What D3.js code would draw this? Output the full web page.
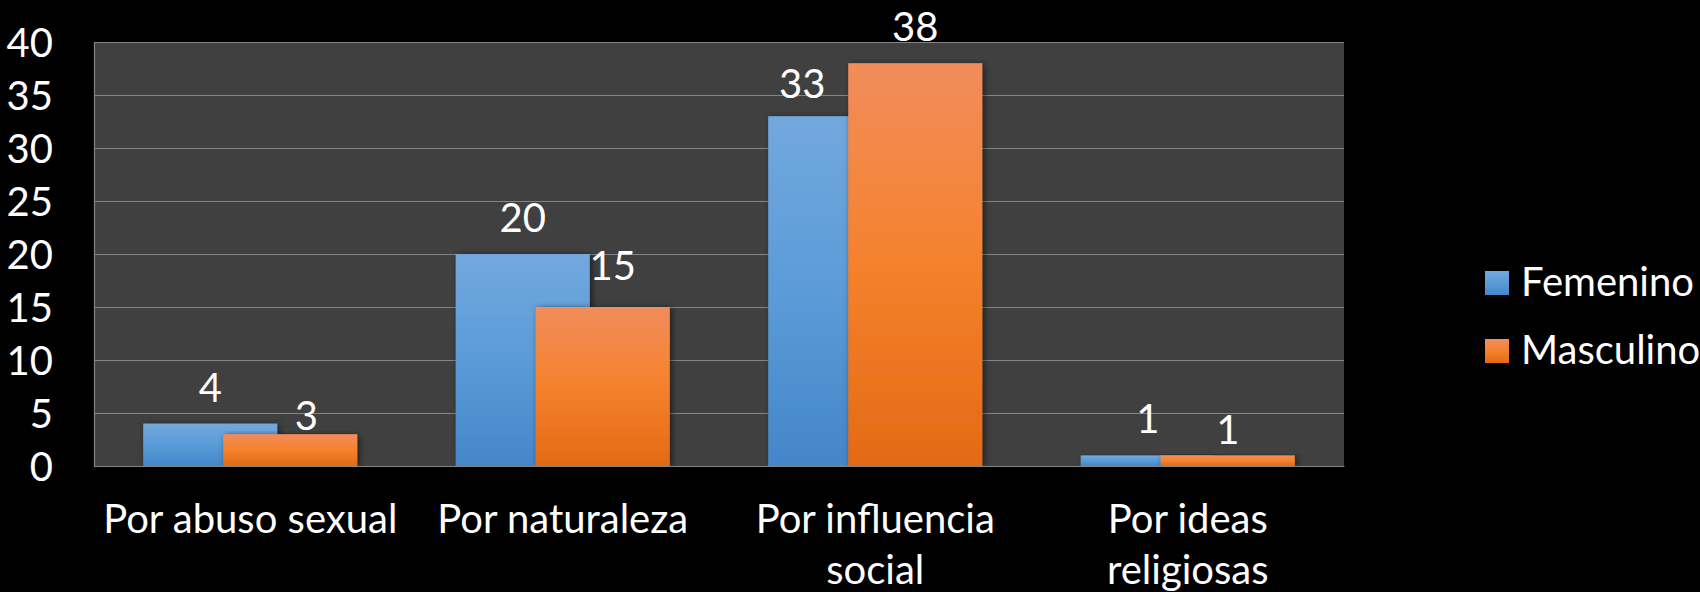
<!DOCTYPE html>
<html>
<head>
<meta charset="utf-8">
<script src="https://cdn.jsdelivr.net/npm/d3@7"></script>
<style>
  html, body { margin: 0; padding: 0; background: #000; }
  svg { display: block; font-family: Lato, "Open Sans", sans-serif; }
</style>
</head>
<body>
<svg width="1700" height="592"></svg>
<script>
var categories = ["Por abuso sexual", "Por naturaleza", "Por influencia social", "Por ideas religiosas"];
var seriesNames = ["Femenino", "Masculino"];
var femenino = [4, 20, 33, 1];
var masculino = [3, 15, 38, 1];
var yTicks = [0, 5, 10, 15, 20, 25, 30, 35, 40];

// excel moved a few labels to avoid overlaps
var labelNudge = {
  "Por abuso sexual|Masculino": [16, 18],
  "Por naturaleza|Masculino": [10, -5],
  "Por influencia social|Femenino": [-33, 4],
  "Por ideas religiosas|Masculino": [0, 11]
};

var colors = {
  Femenino: ["#72a8de", "#5b9bd8", "#4486c9"],
  Masculino: ["#f18d5b", "#f5812d", "#e36a15"]
};

var FONT_SIZE = 40;

var data = categories.map(function(c, i) {
  return { category: c, Femenino: femenino[i], Masculino: masculino[i] };
});

var svg = d3.select("svg"),
    margin = {top: 42, right: 356, bottom: 126, left: 94},
    width = +svg.attr("width") - margin.left - margin.right,
    height = +svg.attr("height") - margin.top - margin.bottom,
    g = svg.append("g").attr("transform", "translate(" + margin.left + "," + margin.top + ")");

var defs = svg.append("defs");
seriesNames.forEach(function(s) {
  var grad = defs.append("linearGradient")
      .attr("id", "grad-" + s)
      .attr("x1", 0).attr("y1", 0).attr("x2", 0).attr("y2", 1);
  grad.append("stop").attr("offset", "0%").attr("stop-color", colors[s][0]);
  grad.append("stop").attr("offset", "50%").attr("stop-color", colors[s][1]);
  grad.append("stop").attr("offset", "100%").attr("stop-color", colors[s][2]);
});
defs.append("filter")
    .attr("id", "shadow")
    .attr("x", "-10%").attr("y", "-10%").attr("width", "130%").attr("height", "130%")
  .append("feDropShadow")
    .attr("dx", 2).attr("dy", 1)
    .attr("stdDeviation", 3)
    .attr("flood-color", "#000")
    .attr("flood-opacity", 0.55);

var x0 = d3.scaleBand()
    .domain(categories)
    .range([0, width]);

var barWidth = x0.bandwidth() * 0.429,
    barStep = barWidth * 0.597,
    groupWidth = barWidth + barStep;

var y = d3.scaleLinear()
    .domain([0, 40])
    .range([height, 0]);

g.append("rect")
    .attr("width", width)
    .attr("height", height)
    .attr("fill", "#404040");

g.append("g")
    .selectAll("line")
    .data(yTicks)
    .enter().append("line")
      .attr("x1", 0)
      .attr("x2", width)
      .attr("y1", function(d) { return Math.round(y(d)) + 0.5; })
      .attr("y2", function(d) { return Math.round(y(d)) + 0.5; })
      .attr("stroke", "#858585")
      .attr("stroke-width", 1.2);

g.append("line")
    .attr("x1", 0.5).attr("x2", 0.5)
    .attr("y1", 0).attr("y2", height)
    .attr("stroke", "#858585")
    .attr("stroke-width", 1.2);

var bars = [];
data.forEach(function(d) {
  seriesNames.forEach(function(s, j) {
    bars.push({ category: d.category, key: s, value: d[s],
      x: x0(d.category) + (x0.bandwidth() - groupWidth) / 2 + j * barStep });
  });
});

g.append("g")
    .selectAll("rect")
    .data(bars)
    .enter().append("rect")
      .attr("x", function(d) { return d.x; })
      .attr("y", function(d) { return y(d.value); })
      .attr("width", barWidth)
      .attr("height", function(d) { return height - y(d.value); })
      .attr("fill", function(d) { return "url(#grad-" + d.key + ")"; })
      .attr("filter", "url(#shadow)");

g.append("g")
    .attr("font-size", FONT_SIZE)
    .attr("fill", "#fff")
    .attr("text-anchor", "middle")
    .selectAll("text")
    .data(bars)
    .enter().append("text")
      .attr("x", function(d) {
        var n = labelNudge[d.category + "|" + d.key] || [0, 0];
        return d.x + barWidth / 2 + n[0];
      })
      .attr("y", function(d) {
        var n = labelNudge[d.category + "|" + d.key] || [0, 0];
        return y(d.value) - 22 + n[1];
      })
      .text(function(d) { return d.value; });

// y axis
var yAxis = g.append("g")
    .call(d3.axisLeft(y).tickValues(yTicks).tickSize(0).tickPadding(41));
yAxis.select(".domain").remove();
yAxis.selectAll("text")
    .attr("font-family", "Lato, 'Open Sans', sans-serif")
    .attr("font-size", FONT_SIZE)
    .attr("fill", "#fff")
    .attr("dy", "0.36em");

// x axis, wrapped labels
var xAxis = g.append("g")
    .attr("transform", "translate(0," + height + ")")
    .call(d3.axisBottom(x0).tickSize(0).tickPadding(0));
xAxis.select(".domain")
    .attr("stroke", "#858585")
    .attr("stroke-width", 1.2);
xAxis.selectAll("text")
    .attr("font-family", "Lato, 'Open Sans', sans-serif")
    .attr("font-size", FONT_SIZE)
    .attr("fill", "#fff")
    .attr("y", 67)
    .attr("dy", 0)
    .each(function(d) { wrap(d3.select(this), 300); });

function wrap(text, maxWidth) {
  var words = text.text().split(" "),
      line = [],
      tspan = text.text(null).append("tspan").attr("x", 0).attr("y", 67),
      lineNo = 0;
  words.forEach(function(w) {
    line.push(w);
    tspan.text(line.join(" "));
    if (tspan.node().getComputedTextLength() > maxWidth && line.length > 1) {
      line.pop();
      tspan.text(line.join(" "));
      line = [w];
      lineNo++;
      tspan = text.append("tspan").attr("x", 0).attr("y", 67 + lineNo * 51).text(w);
    }
  });
}

// legend
var legend = svg.append("g")
    .attr("font-size", FONT_SIZE)
    .attr("fill", "#fff")
    .selectAll("g")
    .data(seriesNames)
    .enter().append("g")
      .attr("transform", function(d, i) { return "translate(1485," + (271 + i * 68) + ")"; });

legend.append("rect")
    .attr("width", 24)
    .attr("height", 24)
    .attr("fill", function(d) { return "url(#grad-" + d + ")"; });

legend.append("text")
    .attr("x", 36)
    .attr("y", 25)
    .text(function(d) { return d; });
</script>
</body>
</html>
